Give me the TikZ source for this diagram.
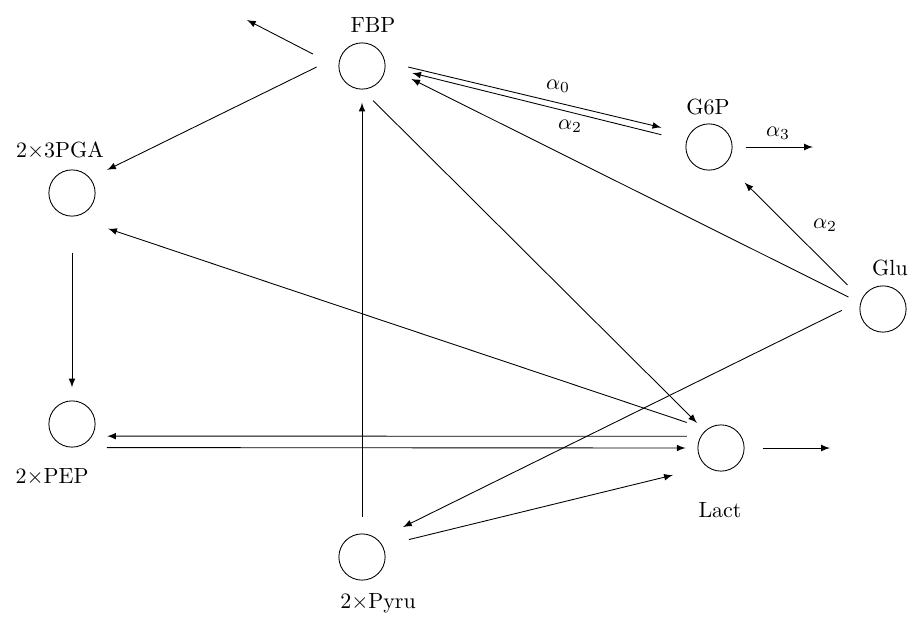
\documentclass[tikz,border=0pt]{standalone}
\usepackage{tikz}
\usetikzlibrary{shapes}

\begin{document}
\begin{tikzpicture}[x=0.016cm, y=-0.016cm, >=latex,
	metab/.style={draw, circle, minimum size=0.74cm, inner sep=0pt}]
	\useasboundingbox (0,0) rectangle (914,619);

	\node[metab] (fbp)   at (362,66)  {};
	\node[metab] (gsixp) at (709,147) {};
	\node[metab] (pga)   at (72,193)  {};
	\node[metab] (glu)   at (883,309) {};
	\node[metab] (pep)   at (72,424)  {};
	\node[metab] (lact)  at (721,448) {};
	\node[metab] (pyru)  at (362,557) {};

	\node (fbplabel)   at (373,25)  {FBP};
	\node (gsixplabel) at (708,107) {G6P};
	\node (pgalabel)   at (60,151)  {2$\times$3PGA};
	\node (glulabel)   at (890,268) {Glu};
	\node (peplabel)   at (52,477)  {2$\times$PEP};
	\node (lactlabel)  at (720,510) {Lact};
	\node (pyrulabel)  at (378,603) {2$\times$Pyru};

	\node (alphazero)  at (558,86)  {$\alpha_0$};
	\node (alphatwo)   at (570,126) {$\alpha_2$};
	\node (alphathree) at (778,133) {$\alpha_3$};
	\node (alphatwob)  at (825,225) {$\alpha_2$};

	\coordinate (fbpout)   at (247,20);
	\coordinate (gsixpout) at (813,147);
	\coordinate (lactout)  at (830,448);

	\draw[->, shorten <=0.46cm] (fbp.183) -- (fbpout);
	\draw[->, shorten <=0.44cm, shorten >=0.30cm] (fbp.152) -- (pga.39);
	\draw[->, shorten <=0.38cm, shorten >=0.46cm] (fbp.11) -- (gsixp.147);
	\draw[->, shorten <=0.41cm, shorten >=0.44cm] (gsixp.165) -- (fbp.-1);
	\draw[->, shorten <=0.21cm, shorten >=0.46cm] (glu.165) -- (fbp.0);
	\draw[->, shorten <=0.32cm, shorten >=0.43cm] (glu.155) -- (gsixp.-45);
	\draw[->, shorten <=0.21cm] (gsixp.east) -- (gsixpout);
	\draw[->, shorten <=0.34cm, shorten >=0.45cm] (glu.160) -- (pyru.48);
	\draw[->, shorten <=0.43cm, shorten >=0.56cm] (pyru.28) -- (lact.233);
	\draw[->, shorten <=0.27cm, shorten >=0.21cm] (pyru.north) -- (fbp.south);
	\draw[->, shorten <=0.25cm, shorten >=0.18cm] (fbp.south) -- (lact.133);
	\draw[->, shorten <=0.34cm, shorten >=0.61cm] (lact.127) -- (pga.south);
	\draw[->, shorten <=0.58cm, shorten >=0.21cm] (pga.south) -- (pep.north);
	\draw[->, shorten <=0.22cm, shorten >=0.24cm] (lact.150) -- (pep.-31);
	\draw[->, shorten <=0.56cm, shorten >=0.19cm] (pep.south) -- (lact.west);
	\draw[->, shorten <=0.29cm] (lact.east) -- (lactout);
\end{tikzpicture}
\end{document}
